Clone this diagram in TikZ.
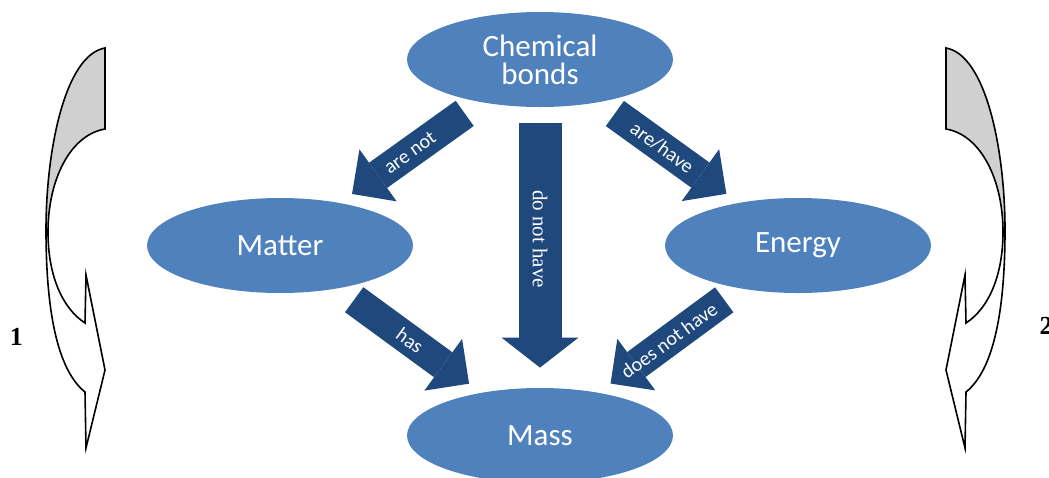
\documentclass[tikz,border=0pt]{standalone}
\usepackage{fontspec}
\setmainfont{Carlito}
\newfontfamily\timesfont{Liberation Serif}
\usepackage{tikz}
\usetikzlibrary{calc, shapes, arrows.meta}
\definecolor{bubbleblue}{HTML}{4F81BD}
\definecolor{arrowblue}{HTML}{1F497D}
\definecolor{ribbongray}{HTML}{D0D0D0}

\begin{document}
\begin{tikzpicture}[x=0.5pt, y=-0.5pt,
       bubble/.style={ellipse, fill=bubbleblue, text=white, inner sep=0pt,
         minimum width=133pt, minimum height=47.5pt, align=center,
         font=\fontsize{15.5}{14}\selectfont},
       blockarrow/.style={draw=arrowblue, line width=15.5pt,
         -{Triangle[width=32pt, length=16pt, line width=0pt]},
         shorten <=9.5pt, shorten >=7.5pt},
       widearrow/.style={blockarrow, line width=21.5pt,
         -{Triangle[width=38.5pt, length=15pt, line width=0pt]},
         shorten <=8pt, shorten >=10pt},
       arrowtext/.style={text=white, inner sep=0pt,
         font=\fontsize{10}{11}\selectfont},
       serifarrowtext/.style={text=white, inner sep=0pt,
         font=\timesfont\fontsize{10.5}{12}\selectfont},
       num/.style={font=\timesfont\bfseries\fontsize{13}{15}\selectfont},
       ribbon/.style={draw=black, line width=0.8pt}
     ]
     \useasboundingbox (0,0) rectangle (1049,477);

     \node[bubble] (cb)     at (540,59.5)  {Chemical\\bonds};
     \node[bubble] (matter) at (280,245.5) {Matter};
     \node[bubble] (energy) at (798,245.5) {Energy};
     \node[bubble] (mass)   at (540,435.5) {Mass};

     \draw[blockarrow] (cb) -- node[arrowtext, sloped] {are not} (matter);
     \draw[blockarrow] (cb) -- node[arrowtext, sloped, pos=0.45] {are/have} (energy);
     \draw[blockarrow] (matter) -- node[arrowtext, sloped] {has} (mass);
     \draw[blockarrow] (energy) -- node[arrowtext, sloped] {does not have} (mass);
     \draw[widearrow] (cb) -- node[serifarrowtext, rotate=-90, pos=0.47] {do not have} (mass);

    % the two twisted arrows at the sides
     \foreach \flip/\move in {1/0, -1/1051} {
       \begin{scope}[xshift=\move*0.5pt, xscale=\flip]
         \fill[ribbongray] (105,48) .. controls (65,55) and (46,150) .. (46,230)
           -- (48,232) .. controls (48,180) and (70,135) .. (105,129) -- cycle;
         \fill[white] (46,230) .. controls (46,320) and (60,372) .. (85,392)
           -- (86,448) -- (105,370) -- (86,275) -- (85,323)
           .. controls (62,308) and (48,275) .. (48,232) -- cycle;
         \draw[ribbon] (105,48) .. controls (65,55) and (46,150) .. (46,230)
           .. controls (46,320) and (60,372) .. (85,392)
           -- (86,448) -- (105,370) -- (86,275) -- (85,323)
           .. controls (62,308) and (48,275) .. (48,232)
           .. controls (48,180) and (70,135) .. (105,129) -- cycle;
       \end{scope}
     }

     \node[num] (one) at (16.5,336.5) {1};
     \node[num] (two) at (1046,326) {2};
\end{tikzpicture}
\end{document}
